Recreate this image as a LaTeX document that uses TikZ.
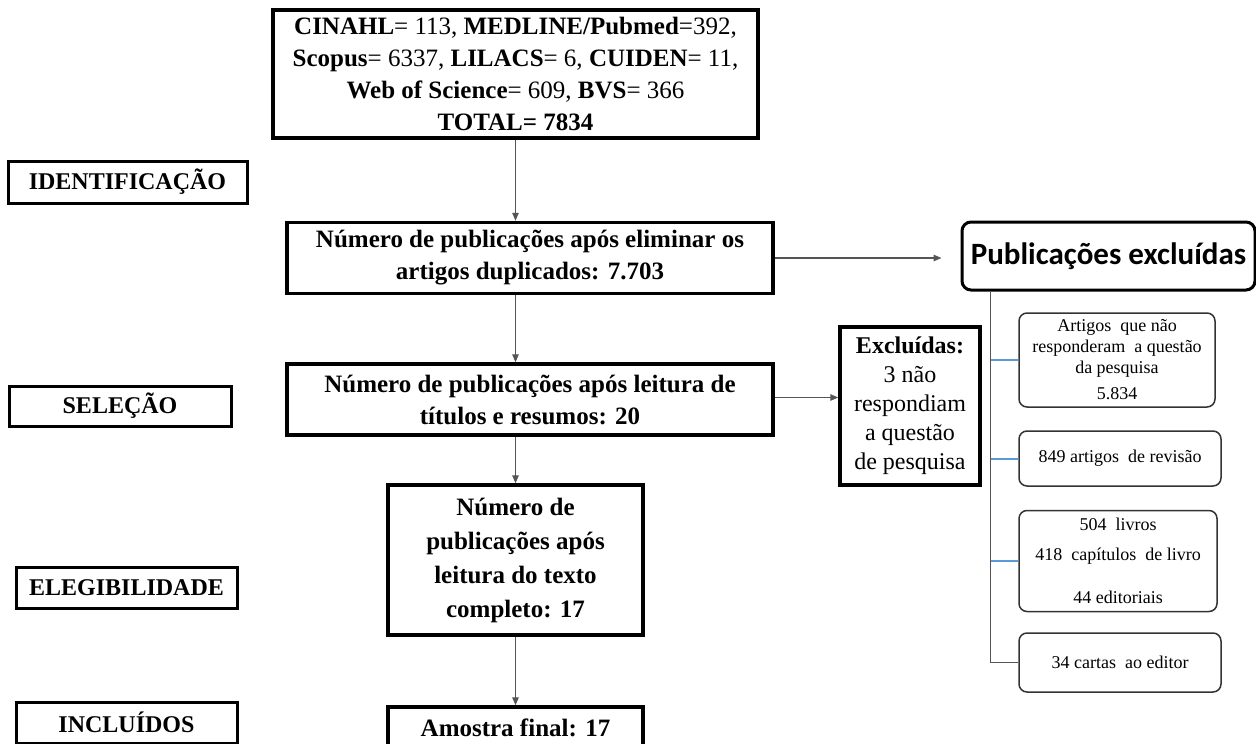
\documentclass[tikz,border=0pt]{standalone}
\usepackage{fontspec}
\setmainfont{Liberation Serif}
\newfontfamily\calib{Carlito}
\usetikzlibrary{arrows.meta}
\definecolor{conngray}{HTML}{555555}
\definecolor{connblue}{HTML}{5B9BD5}
\begin{document}
\begin{tikzpicture}[x=1pt,y=-1pt,
  mainbox/.style={draw=black, line width=3.5pt, fill=white, inner sep=0pt, align=center,
    font=\fontsize{25}{32}\selectfont\bfseries},
  labelbox/.style={draw=black, line width=3pt, fill=white, inner sep=0pt, align=center,
    font=\fontsize{24}{28}\selectfont\bfseries},
  smallbox/.style={draw=black!80, line width=1.5pt, rounded corners=8pt, fill=white, inner sep=0pt,
    align=center, font=\fontsize{18}{21}\selectfont},
  arr/.style={draw=conngray, line width=1.3pt, -{Triangle[length=8pt,width=6.5pt]}},
  trunk/.style={draw=conngray, line width=1.6pt},
  branch/.style={draw=connblue, line width=2pt}]
\useasboundingbox (0,0) rectangle (1256,744);

% left stage labels
\node[labelbox, minimum width=239pt, minimum height=42pt] (lid) at (127.5,182) {IDENTIFICAÇÃO};
\node[labelbox, minimum width=222pt, minimum height=40pt] (lsel) at (120,406) {SELEÇÃO};
\node[labelbox, minimum width=221pt, minimum height=41pt] (lel) at (126.5,587.5) {ELEGIBILIDADE};
\node[labelbox, minimum width=221pt, minimum height=41pt] (linc) at (126.5,722.5) {INCLUÍDOS};

% main flow
\node[mainbox, minimum width=485pt, minimum height=128pt, font=\fontsize{25}{32}\selectfont] (top) at (515.5,74)
  {\textbf{CINAHL}= 113, \textbf{MEDLINE/Pubmed}=392,\\
   \textbf{Scopus}= 6337, \textbf{LILACS}= 6, \textbf{CUIDEN}= 11,\\
   \textbf{Web of Science}= 609, \textbf{BVS}= 366\\
   \textbf{TOTAL= 7834}};
\node[mainbox, minimum width=486pt, minimum height=71pt] (b2) at (530,258)
  {Número de publicações após eliminar os\\ artigos duplicados: 7.703};
\node[mainbox, minimum width=486pt, minimum height=71pt] (b3) at (530,399.5)
  {Número de publicações após leitura de\\ títulos e resumos: 20};
\node[mainbox, minimum width=255pt, minimum height=150pt, font=\fontsize{25}{34}\selectfont\bfseries] (b4) at (515.5,560)
  {Número de\\ publicações após\\ leitura do texto\\ completo: 17};
\node[mainbox, minimum width=255pt, minimum height=41pt] (b5) at (515.5,727.5)
  {Amostra final: 17};

% excluded from screening
\node[mainbox, minimum width=140pt, minimum height=158pt, font=\fontsize{24}{29}\selectfont] (ex) at (910,406)
  {\textbf{Excluídas:}\\ 3 não\\ respondiam\\ a questão\\ de pesquisa};

% excluded publications
\node[draw=black, line width=3pt, rounded corners=9pt, fill=white, inner sep=0pt,
  minimum width=293pt, minimum height=68pt, font=\calib\fontsize{31}{36}\selectfont\bfseries] (pub) at (1108.5,256)
  {Publicações excluídas};

\node[smallbox, minimum width=196pt, minimum height=94pt] (a1) at (1117,360)
  {Artigos\ \ que não\\ responderam\ \ a questão\\ da pesquisa\\[5pt] 5.834};
\node[smallbox, minimum width=202pt, minimum height=55pt] (a2) at (1120,458.5)
  {849 artigos\ \ de revisão};
\node[smallbox, minimum width=198pt, minimum height=101pt] (a3) at (1118,561)
  {504\ \ livros\\[9pt] 418\ \ capítulos\ \ de livro\\[22pt] 44 editoriais};
\node[smallbox, minimum width=202pt, minimum height=59pt] (a4) at (1120,662.5)
  {34 cartas\ \ ao editor};

% connectors
\draw[arr] (top.south) -- (top.south |- b2.north);
\draw[arr] (top.south |- b2.south) -- (top.south |- b3.north);
\draw[arr] (b4.north |- b3.south) -- (b4.north);
\draw[arr] (b4.south) -- (b5.north);
\coordinate (pubtip) at ([xshift=-19pt]pub.west);
\draw[arr] (b2.east) -- (b2.east -| pubtip);
\draw[arr] ([yshift=2pt]b3.east) -- ([yshift=2pt]b3.east -| ex.west);

\coordinate (tr) at ([xshift=-118pt]pub.south);
\draw[trunk] (tr) |- (a4.west);
\draw[branch] (tr |- a1.west) -- (a1.west);
\draw[branch] (tr |- a2.west) -- (a2.west);
\draw[branch] (tr |- a3.west) -- (a3.west);
\end{tikzpicture}
\end{document}
